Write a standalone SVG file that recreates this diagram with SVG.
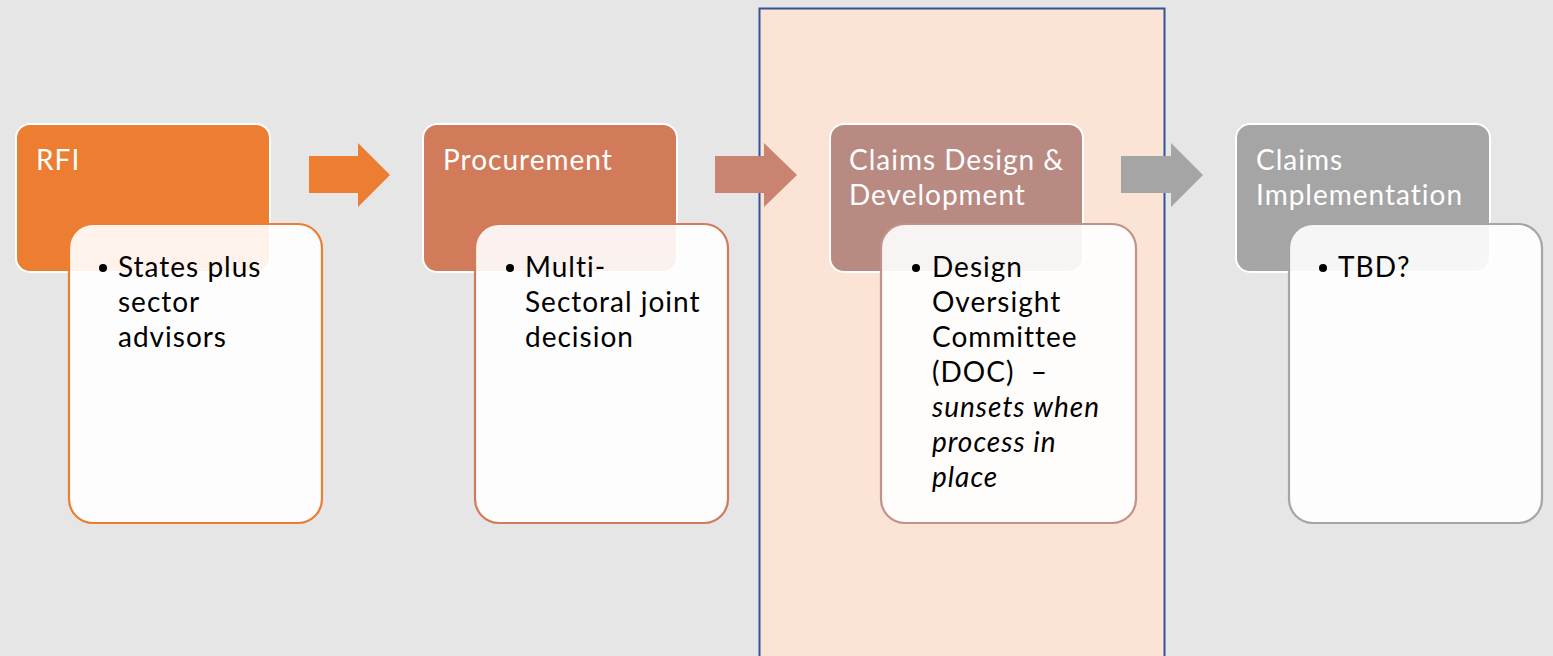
<svg xmlns="http://www.w3.org/2000/svg" width="1553" height="656" viewBox="0 0 1553 656">
<style>
.hdr{stroke:#ffffff;stroke-width:2}
.card{fill:#ffffff;fill-opacity:0.9;stroke-width:2.2}
.ht{font-family:Lato,"Liberation Sans",sans-serif;font-size:28px;letter-spacing:1px;fill:#ffffff}
.bt{font-family:Lato,"Liberation Sans",sans-serif;font-size:28px;letter-spacing:1px;fill:#000000}
</style>
<rect x="0" y="0" width="1553" height="656" fill="#e6e6e6"/>
<rect id="highlight" x="759.5" y="8.5" width="405" height="660" fill="#fbe4d6" stroke="#2f5597" stroke-width="2"/>
<g id="connectors">
<polygon points="309,156 358,156 358,143 390,175 358,207 358,193 309,193" fill="#ed7d31"/>
<polygon points="715,156 764,156 764,143 797,175 764,207 764,193 715,193" fill="#c98371"/>
<polygon points="1121,156 1171,156 1171,143 1203,175 1171,207 1171,193 1121,193" fill="#a5a5a5"/>
</g>
<g id="rfi">
<rect class="hdr" x="16" y="124" width="254" height="148" rx="14" fill="#ed7d31"/>
<text class="ht" x="36" y="170">RFI</text>
<rect class="card" x="69" y="224" width="253" height="299" rx="24" stroke="#ed7d31"/>
<circle cx="103" cy="268" r="4"/>
<text class="bt" x="118" y="277">States plus</text>
<text class="bt" x="118" y="312">sector</text>
<text class="bt" x="118" y="347">advisors</text>
</g>
<g id="procurement">
<rect class="hdr" x="423" y="124" width="254" height="148" rx="14" fill="#d27b5b"/>
<text class="ht" x="443" y="170">Procurement</text>
<rect class="card" x="475" y="224" width="253" height="299" rx="24" stroke="#d27b5b"/>
<circle cx="510" cy="268" r="4"/>
<text class="bt" x="525" y="277">Multi-</text>
<text class="bt" x="525" y="312">Sectoral joint</text>
<text class="bt" x="525" y="347">decision</text>
</g>
<g id="design">
<rect class="hdr" x="830" y="124" width="253" height="148" rx="14" fill="#b98a82"/>
<text class="ht" x="849" y="170">Claims Design &amp;</text>
<text class="ht" x="849" y="205">Development</text>
<rect class="card" x="881" y="224" width="255" height="299" rx="24" stroke="#c0938a"/>
<circle cx="916" cy="268" r="4"/>
<text class="bt" x="932" y="277">Design</text>
<text class="bt" x="932" y="312">Oversight</text>
<text class="bt" x="932" y="347">Committee</text>
<text class="bt" x="932" y="382" xml:space="preserve">(DOC)  –</text>
<text class="bt" x="932" y="417" font-style="italic">sunsets when</text>
<text class="bt" x="932" y="452" font-style="italic">process in</text>
<text class="bt" x="932" y="487" font-style="italic">place</text>
</g>
<g id="implementation">
<rect class="hdr" x="1236" y="124" width="254" height="148" rx="14" fill="#a5a5a5"/>
<text class="ht" x="1256" y="170">Claims</text>
<text class="ht" x="1256" y="205">Implementation</text>
<rect class="card" x="1289" y="224" width="253" height="299" rx="24" stroke="#a5a5a5"/>
<circle cx="1323" cy="268" r="4"/>
<text class="bt" x="1338" y="277">TBD?</text>
</g>
</svg>
